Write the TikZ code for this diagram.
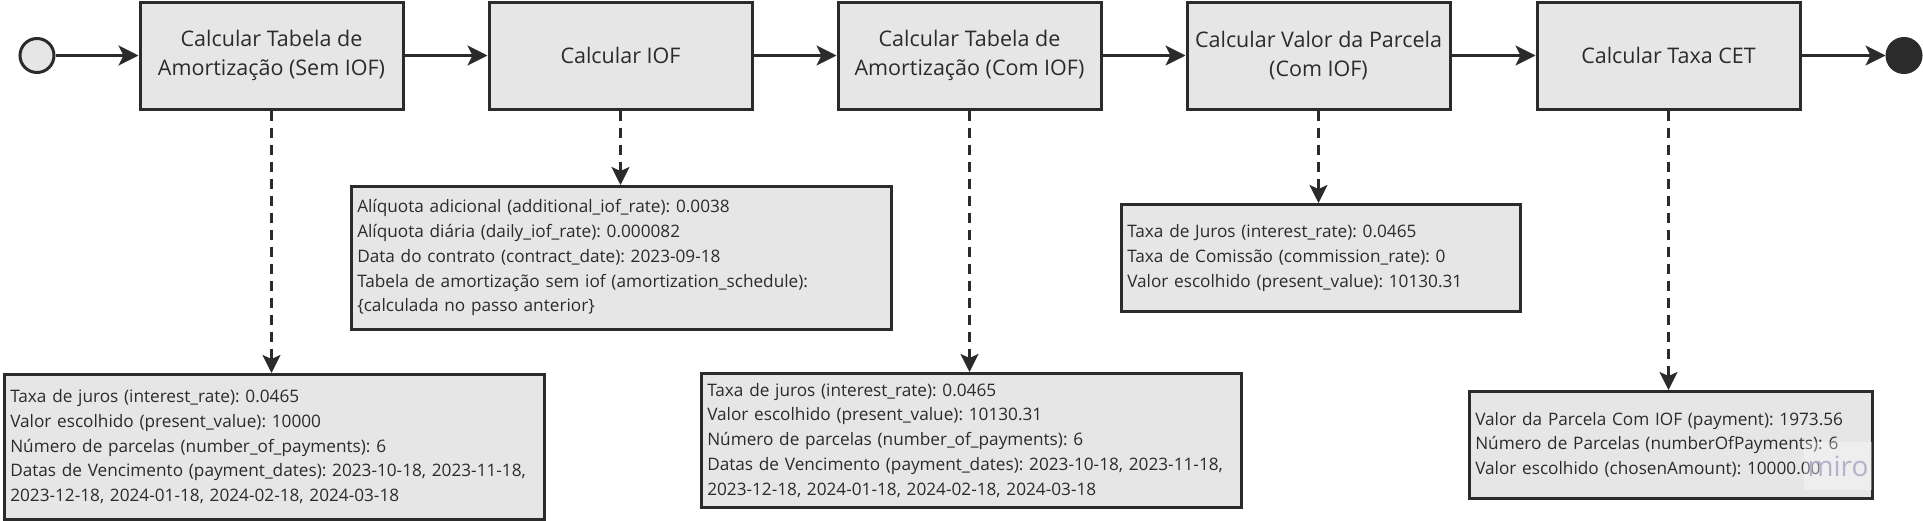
\documentclass[tikz,border=0pt]{standalone}
\usepackage{fontspec}
\setmainfont{Open Sans}
\usetikzlibrary{arrows.meta}
\definecolor{ln}{HTML}{2B2B2B}
\definecolor{fl}{HTML}{E6E6E6}
\definecolor{wm}{HTML}{B2B2CE}
\begin{document}
\frenchspacing
\begin{tikzpicture}[x=1pt,y=-1pt,
  stepbox/.style={draw=ln, fill=fl, line width=3pt, minimum width=263pt, minimum height=107pt, inner sep=0pt, align=center, font=\fontsize{21.5}{29}\selectfont, text=ln},
  notebox/.style={draw=ln, fill=fl, line width=2.5pt, inner xsep=6pt, inner ysep=0pt, align=left, anchor=north west, font=\fontsize{17.2}{24.8}\selectfont, text=ln},
  flow/.style={draw=ln, line width=3pt, -{Stealth[length=20pt,width=20pt,inset=5pt]}},
  dep/.style={draw=ln, line width=2.5pt, dash pattern=on 10pt off 7pt, -{Stealth[length=18pt,width=18pt,inset=4pt]}}
]
\useasboundingbox (0,0) rectangle (1923,520);
\node[circle, draw=ln, fill=fl, line width=3pt, minimum size=34pt, inner sep=0pt] (s) at (37,55.5) {};
\node[circle, draw=ln, fill=ln, line width=3pt, minimum size=34pt, inner sep=0pt] (e) at (1904,55.5) {};
\node[stepbox] (b1) at (271.5,55.5) {Calcular Tabela de\\Amortização (Sem IOF)};
\node[stepbox] (b2) at (620.5,55.5) {Calcular IOF};
\node[stepbox] (b3) at (969.5,55.5) {Calcular Tabela de\\Amortização (Com IOF)};
\node[stepbox] (b4) at (1318.5,55.5) {Calcular Valor da Parcela\\(Com IOF)};
\node[stepbox] (b5) at (1668.5,55.5) {Calcular Taxa CET};

\node[notebox, text width=528pt, minimum height=145pt] (n1) at (3,373) {Taxa de juros (interest\_rate): 0.0465\\Valor escolhido (present\_value): 10000\\Número de parcelas (number\_of\_payments): 6\\Datas de Vencimento (payment\_dates): 2023-10-18, 2023-11-18,\\2023-12-18, 2024-01-18, 2024-02-18, 2024-03-18\\[4pt]};
\node[notebox, text width=528pt, minimum height=143pt] (n2) at (350,185) {Alíquota adicional (additional\_iof\_rate): 0.0038\\Alíquota diária (daily\_iof\_rate): 0.000082\\Data do contrato (contract\_date): 2023-09-18\\Tabela de amortização sem iof (amortization\_schedule):\\\{calculada no passo anterior\}\\[2pt]};
\node[notebox, text width=528pt, minimum height=134pt] (n3) at (700,372) {Taxa de juros (interest\_rate): 0.0465\\Valor escolhido (present\_value): 10130.31\\Número de parcelas (number\_of\_payments): 6\\Datas de Vencimento (payment\_dates): 2023-10-18, 2023-11-18,\\2023-12-18, 2024-01-18, 2024-02-18, 2024-03-18};
\node[notebox, text width=387pt, minimum height=107pt] (n4) at (1120,203) {Taxa de Juros (interest\_rate): 0.0465\\Taxa de Comissão (commission\_rate): 0\\Valor escolhido (present\_value): 10130.31};
\node[notebox, text width=391pt, minimum height=107pt] (n5) at (1468,390) {Valor da Parcela Com IOF (payment): 1973.56\\Número de Parcelas (numberOfPayments): 6\\Valor escolhido (chosenAmount): 10000.00};

\draw[flow] (s) -- (b1);
\draw[flow] (b1) -- (b2);
\draw[flow] (b2) -- (b3);
\draw[flow] (b3) -- (b4);
\draw[flow] (b4) -- (b5);
\draw[flow] (b5) -- (e);

\draw[dep] (b1.south) -- (b1.south |- n1.north);
\draw[dep] (b2.south) -- (b2.south |- n2.north);
\draw[dep] (b3.south) -- (b3.south |- n3.north);
\draw[dep] (b4.south) -- (b4.south |- n4.north);
\draw[dep] (b5.south) -- (b5.south |- n5.north);

\node[fill=white, fill opacity=0.35, text opacity=1, text=wm, inner sep=0pt, minimum width=68pt, minimum height=48pt, font=\fontsize{28}{28}\selectfont] (wmk) at (1838,466) {miro};
\end{tikzpicture}
\end{document}
